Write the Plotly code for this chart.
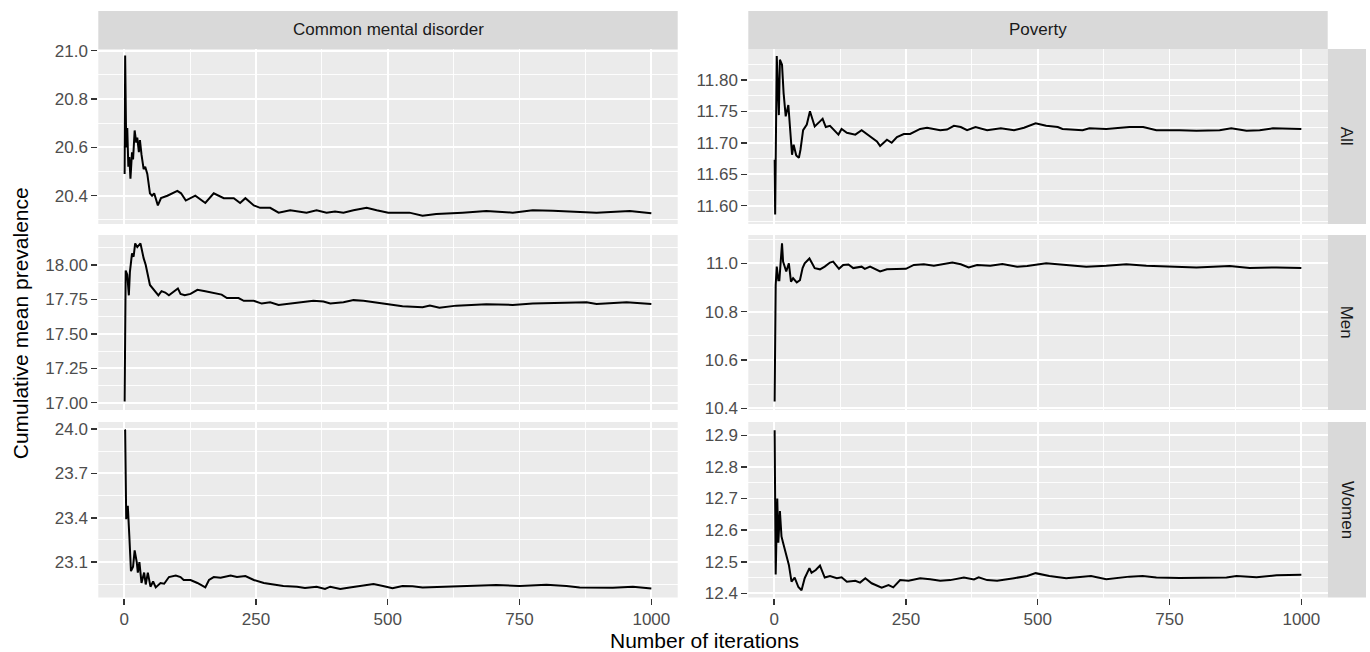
import plotly.graph_objects as go

W, H = 1370, 652

# ---------------- data ----------------
cmd_all_iter = [1, 2, 4, 6, 8, 10, 12, 15, 17, 20, 23, 25, 28, 30, 33, 37, 40, 44, 49, 53, 57, 64, 70, 82, 101,
                108, 117, 135, 154, 170, 189, 208, 220, 230, 246, 258, 277, 293, 315, 346, 365, 384, 400, 416,
                435, 460, 479, 501, 520, 541, 566, 592, 642, 687, 737, 775, 813, 864, 896, 959, 1000]
cmd_all_val = [20.49, 20.98, 20.60, 20.68, 20.52, 20.56, 20.47, 20.58, 20.55, 20.67, 20.62, 20.64, 20.58, 20.63,
               20.57, 20.51, 20.52, 20.49, 20.41, 20.40, 20.41, 20.36, 20.39, 20.40, 20.42,
               20.41, 20.38, 20.40, 20.37, 20.41, 20.39, 20.39, 20.37, 20.39, 20.36, 20.35, 20.35, 20.33, 20.34,
               20.33, 20.34, 20.33, 20.335, 20.33, 20.34, 20.35, 20.34, 20.33, 20.33, 20.33, 20.317, 20.324,
               20.33, 20.337, 20.33, 20.34, 20.338, 20.334, 20.33, 20.337, 20.327]

pov_all_iter = [1, 2, 5, 9, 11, 15, 18, 22, 27, 29, 31, 34, 37, 42, 47, 50, 55, 62, 68, 77, 87, 92, 98, 106, 122,
                128, 138, 154, 166, 182, 195, 201, 214, 223, 233, 246, 258, 277, 290, 315, 328, 341, 354, 366,
                382, 404, 430, 455, 474, 496, 516, 538, 547, 585, 598, 630, 674, 700, 725, 769, 801, 845, 867,
                896, 921, 946, 978, 1000]
pov_all_val = [11.673, 11.586, 11.838, 11.744, 11.832, 11.824, 11.779, 11.742, 11.76, 11.735, 11.705, 11.681,
               11.697, 11.68, 11.676, 11.689, 11.72, 11.729, 11.75, 11.726, 11.734, 11.738, 11.725, 11.727,
               11.713, 11.722, 11.716, 11.713, 11.72, 11.71, 11.702, 11.695, 11.705, 11.70, 11.709, 11.714,
               11.714, 11.722, 11.724, 11.72, 11.721, 11.727, 11.725, 11.72, 11.725, 11.72, 11.723, 11.72,
               11.724, 11.731, 11.727, 11.725, 11.722, 11.72, 11.723, 11.722, 11.725, 11.725, 11.72, 11.72,
               11.719, 11.72, 11.723, 11.719, 11.72, 11.723, 11.723, 11.722]

cmd_men_iter = [1, 3, 6, 9, 11, 15, 18, 21, 25, 31, 37, 41, 49, 57, 65, 71, 78, 85, 95, 102, 107, 115, 126, 139,
                154, 176, 185, 195, 208, 217, 227, 246, 261, 277, 293, 315, 340, 359, 378, 391, 416, 435, 454,
                473, 503, 528, 566, 580, 598, 630, 687, 737, 775, 826, 877, 896, 953, 1000]
cmd_men_val = [17.008, 17.96, 17.93, 17.78, 17.95, 18.085, 18.06, 18.157, 18.13, 18.157, 18.05, 18.0, 17.855,
               17.82, 17.78, 17.81, 17.80, 17.78, 17.81, 17.83, 17.79, 17.78, 17.79, 17.82, 17.81, 17.79,
               17.785, 17.76, 17.76, 17.76, 17.74, 17.74, 17.72, 17.73, 17.71, 17.72, 17.727, 17.74, 17.735,
               17.72, 17.73, 17.745, 17.74, 17.73, 17.71, 17.70, 17.693, 17.705, 17.69, 17.705, 17.715, 17.71,
               17.72, 17.727, 17.73, 17.717, 17.73, 17.717]

pov_men_iter = [1, 3, 5, 8, 10, 12, 15, 17, 20, 23, 28, 32, 36, 43, 49, 54, 58, 67, 72, 77, 87, 96, 106, 112,
                123, 131, 141, 150, 166, 172, 182, 192, 201, 214, 233, 250, 265, 284, 303, 322, 338, 354, 369,
                385, 410, 433, 461, 480, 503, 516, 554, 592, 630, 668, 706, 744, 801, 864, 902, 953, 1000]
pov_men_val = [10.428, 10.91, 10.986, 10.93, 10.93, 10.99, 11.083, 11.007, 10.99, 10.966, 11.0, 10.924, 10.938,
               10.921, 10.93, 10.98, 11.0, 11.02, 11.0, 10.98, 10.975, 10.986, 11.003, 11.007, 10.977, 10.993,
               10.995, 10.98, 10.986, 10.977, 10.986, 10.975, 10.966, 10.975, 10.977, 10.977, 10.993, 10.996,
               10.99, 10.996, 11.003, 10.996, 10.983, 10.993, 10.99, 10.997, 10.986, 10.989, 10.996, 11.0,
               10.993, 10.986, 10.99, 10.996, 10.99, 10.986, 10.983, 10.989, 10.98, 10.983, 10.98]

cmd_wom_iter = [1, 2, 4, 7, 10, 13, 17, 20, 24, 26, 29, 33, 38, 41, 45, 50, 55, 60, 69, 76, 85, 98, 107, 113,
                126, 139, 154, 161, 170, 183, 202, 214, 230, 246, 265, 284, 302, 328, 343, 365, 381, 391, 410,
                428, 447, 473, 491, 509, 528, 547, 566, 611, 668, 706, 750, 801, 839, 864, 927, 965, 1000]
cmd_wom_val = [23.995, 23.99, 23.39, 23.48, 23.27, 23.04, 23.07, 23.18, 23.10, 23.03, 23.10, 22.96, 23.03,
               22.95, 23.03, 22.935, 22.97, 22.93, 22.96, 22.955, 23.0, 23.01, 23.0, 22.98, 22.98, 22.96,
               22.93, 22.98, 23.0, 22.995, 23.01, 23.0, 23.007, 22.98, 22.96, 22.95, 22.94, 22.935, 22.926,
               22.935, 22.92, 22.935, 22.92, 22.93, 22.94, 22.953, 22.94, 22.924, 22.94, 22.938, 22.93,
               22.935, 22.94, 22.946, 22.94, 22.948, 22.94, 22.93, 22.928, 22.935, 22.922]

pov_wom_iter = [1, 3, 6, 8, 11, 14, 17, 22, 28, 33, 39, 46, 52, 58, 67, 71, 79, 87, 96, 106, 119, 128, 138, 154,
                163, 173, 185, 204, 217, 226, 239, 255, 277, 296, 315, 334, 360, 379, 388, 404, 423, 455, 480,
                496, 522, 554, 570, 601, 630, 674, 699, 725, 769, 826, 858, 877, 915, 953, 1000]
pov_wom_val = [12.916, 12.46, 12.70, 12.56, 12.66, 12.58, 12.56, 12.527, 12.49, 12.437, 12.45, 12.42, 12.41,
               12.448, 12.48, 12.465, 12.474, 12.488, 12.45, 12.455, 12.448, 12.451, 12.437, 12.44, 12.434,
               12.448, 12.432, 12.418, 12.426, 12.419, 12.442, 12.44, 12.448, 12.445, 12.44, 12.442, 12.45,
               12.444, 12.451, 12.442, 12.44, 12.448, 12.455, 12.464, 12.455, 12.448, 12.45, 12.455, 12.445,
               12.453, 12.455, 12.45, 12.449, 12.451, 12.45, 12.455, 12.451, 12.457, 12.459]

col_labels = ["Common mental disorder", "Poverty"]
row_labels = ["All", "Men", "Women"]
x_ticks = [0, 250, 500, 750, 1000]

# ---------------- layout geometry (pixels) ----------------
col_px = [(98.3, 677.7), (748.3, 1327.7)]
row_px = [(49.0, 224.0), (235.0, 410.0), (422.0, 597.5)]
strip_top = (11.0, 49.0)
strip_right = (1327.7, 1366.0)

panels = [
    # (row, col, x, y, yrange, tick0, dtick, fmt)
    (0, 0, cmd_all_iter, cmd_all_val, [20.283, 21.007], 20.4, 0.2, ".1f"),
    (0, 1, pov_all_iter, pov_all_val, [11.571, 11.849], 11.6, 0.05, ".2f"),
    (1, 0, cmd_men_iter, cmd_men_val, [16.947, 18.218], 17.0, 0.25, ".2f"),
    (1, 1, pov_men_iter, pov_men_val, [10.393, 11.117], 10.4, 0.2, ".1f"),
    (2, 0, cmd_wom_iter, cmd_wom_val, [22.862, 24.046], 23.1, 0.3, ".1f"),
    (2, 1, pov_wom_iter, pov_wom_val, [12.387, 12.942], 12.4, 0.1, ".1f"),
]

FONT = "Liberation Sans, Arial, Helvetica, sans-serif"
PANEL_BG = "#EBEBEB"
STRIP_BG = "#D9D9D9"

fig = go.Figure()
layout = dict(
    width=W, height=H,
    autosize=False,
    margin=dict(l=0, r=0, t=0, b=0, pad=0, autoexpand=False),
    paper_bgcolor="white",
    plot_bgcolor=PANEL_BG,
    showlegend=False,
    font=dict(family=FONT, size=17, color="#4D4D4D"),
)


def xd(px):
    return px / W


def yd(px):
    return 1 - px / H


for i, (r, c, xs, ys, yr, t0, dt, fmt) in enumerate(panels, start=1):
    xa = "x" if i == 1 else f"x{i}"
    ya = "y" if i == 1 else f"y{i}"
    fig.add_trace(go.Scatter(x=xs, y=ys, mode="lines", xaxis=xa, yaxis=ya,
                             line=dict(color="black", width=2.0), hoverinfo="skip"))
    bottom = (r == 2)
    layout["xaxis" if i == 1 else f"xaxis{i}"] = dict(
        domain=[xd(col_px[c][0]), xd(col_px[c][1])],
        anchor=ya, range=[-48.95, 1049.95], automargin=False,
        tickmode="array", tickvals=x_ticks,
        ticktext=[str(v) for v in x_ticks],
        showticklabels=bottom,
        ticks="outside" if bottom else "", ticklen=6, tickwidth=1.5, tickcolor="#333333",
        showgrid=True, gridcolor="white", gridwidth=1.8,
        minor=dict(tickvals=[125, 375, 625, 875], showgrid=True, gridcolor="white", gridwidth=0.9, ticks=""),
        zeroline=False, showline=False,
        tickfont=dict(family=FONT, size=17, color="#4D4D4D"),
    )
    layout["yaxis" if i == 1 else f"yaxis{i}"] = dict(
        domain=[yd(row_px[r][1]), yd(row_px[r][0])],
        anchor=xa, range=yr, automargin=False,
        tick0=t0, dtick=dt, tickformat=fmt,
        ticks="outside", ticklen=6, tickwidth=1.5, tickcolor="#333333",
        showgrid=True, gridcolor="white", gridwidth=1.8,
        minor=dict(tick0=t0 - dt / 2, dtick=dt / 2, showgrid=True, gridcolor="white", gridwidth=0.9, ticks=""),
        zeroline=False, showline=False,
        tickfont=dict(family=FONT, size=17, color="#4D4D4D"),
    )

shapes = []
annotations = []
for c, lab in enumerate(col_labels):
    shapes.append(dict(type="rect", xref="paper", yref="paper",
                       x0=xd(col_px[c][0]), x1=xd(col_px[c][1]),
                       y0=yd(strip_top[1]), y1=yd(strip_top[0]),
                       fillcolor=STRIP_BG, line=dict(width=0), layer="below"))
    annotations.append(dict(text=lab, xref="paper", yref="paper",
                            x=xd((col_px[c][0] + col_px[c][1]) / 2), y=yd((strip_top[0] + strip_top[1]) / 2),
                            showarrow=False, xanchor="center", yanchor="middle",
                            font=dict(family=FONT, size=17, color="#1A1A1A")))
for r, lab in enumerate(row_labels):
    shapes.append(dict(type="rect", xref="paper", yref="paper",
                       x0=xd(strip_right[0]), x1=xd(strip_right[1]),
                       y0=yd(row_px[r][1]), y1=yd(row_px[r][0]),
                       fillcolor=STRIP_BG, line=dict(width=0), layer="below"))
    annotations.append(dict(text=lab, xref="paper", yref="paper",
                            x=xd((strip_right[0] + strip_right[1]) / 2), y=yd((row_px[r][0] + row_px[r][1]) / 2),
                            showarrow=False, xanchor="center", yanchor="middle", textangle=90,
                            font=dict(family=FONT, size=17, color="#1A1A1A")))

annotations.append(dict(text="Number of iterations", xref="paper", yref="paper",
                        x=xd(704), y=yd(640),
                        showarrow=False, xanchor="center", yanchor="middle",
                        font=dict(family=FONT, size=21, color="black")))
annotations.append(dict(text="Cumulative mean prevalence", xref="paper", yref="paper",
                        x=xd(20), y=yd((row_px[0][0] + row_px[2][1]) / 2),
                        showarrow=False, xanchor="center", yanchor="middle", textangle=-90,
                        font=dict(family=FONT, size=21, color="black")))

layout["shapes"] = shapes
layout["annotations"] = annotations
fig.update_layout(**layout)
fig.write_html(
    "out.html",
    config={"displayModeBar": False, "staticPlot": True},
    post_script="document.body.style.margin='0';document.body.style.padding='0';"
                "document.body.style.overflow='hidden';",
)
